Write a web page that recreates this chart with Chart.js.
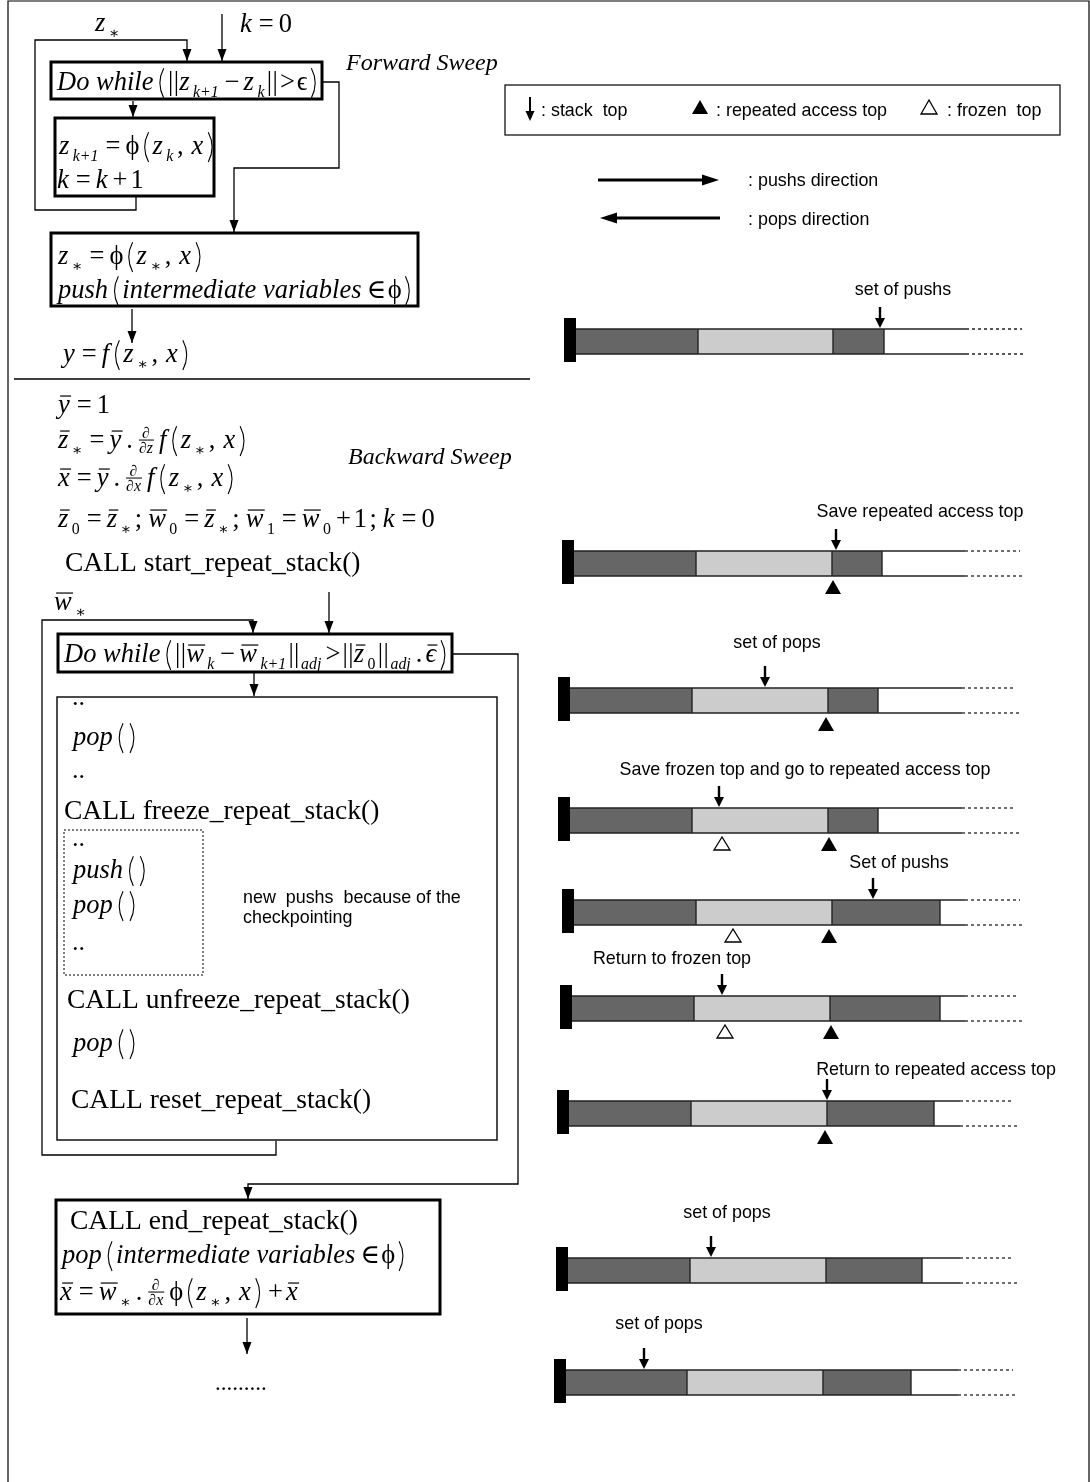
<!DOCTYPE html>
<html><head><meta charset="utf-8">
<script src="https://cdn.jsdelivr.net/npm/chart.js@4.4.1/dist/chart.umd.min.js"></script>
<style>html,body{margin:0;padding:0;background:#fff}#wrap{width:1090px;height:1482px;position:relative}canvas{display:block}</style>
</head><body><div id="wrap"><canvas id="c" width="1090" height="1482"></canvas></div>
<script>
// ---------- domain of the drawing (scale units) ----------
const W = 1090, H = 1482;

// ---------- stack diagrams (right column) ----------
const stackLabels = ["set of pushs","Save repeated access top","set of pops","Save frozen top and go to repeated access top","Set of pushs","Return to frozen top","Return to repeated access top","set of pops","set of pops"];
const stackRowTop = [329,551,688,808,900,996,1101,1258,1370];
const stackBase   = [576,574,570,570,574,572,569,568,566];
const stackDarkEnd  = [698,696,692,692,696,694,691,690,687];
const stackLightEnd = [833,832,828,828,832,830,827,826,823];
const stackFilledEnd= [884,882,878,878,940,940,934,922,911];
const stackOpenEnd  = [966,965,962,962,965,965,960,960,958];
const stackDotEnd   = [1022,1020,1015,1015,1020,1018,1014,1013,1013];
const stackTopPtr   = [880,836,765,719,873,722,827,711,644];
const repeatTopPtr  = [null,833,826,829,829,831,825,null,null];
const frozenTopPtr  = [null,null,null,722,733,725,null,null,null];
const stackLabelX   = [903,920,777,805,899,672,936,727,659];
const stackLabelY   = [289,511,642,769,862,958,1069,1212,1323];

// ---------- legend ----------
const legendTexts = [": stack  top", ": repeated access top", ": frozen  top"];
const directionTexts = [": pushs direction", ": pops direction"];

// ---------- flowchart text (token: kind:text) ----------
const mathLines = [
  {x:95,  y:31,  t:["i:z","_:∗"]},
  {x:240, y:32,  t:["i:k","n:=","n:0"]},
  {x:57,  y:90,  t:["i:Do while","P:(","n:||","i:z","_:k+1","n:−","i:z","_:k","n:||>ϵ","P:)"]},
  {x:59,  y:154, t:["i:z","_:k+1","n:=","n:ϕ","P:(","i:z","_:k","n:,","i:x","P:)"]},
  {x:57,  y:188, t:["i:k","n:=","i:k","n:+1"]},
  {x:58,  y:264, t:["i:z","_:∗","n:=","n:ϕ","P:(","i:z","_:∗","n:,","i:x","P:)"]},
  {x:58,  y:298, t:["i:push","P:(","i:intermediate variables","n:∈ϕ","P:)"]},
  {x:63,  y:362, t:["i:y","n:=","i:f","P:(","i:z","_:∗","n:,","i:x","P:)"]},
  {x:58,  y:413, t:["b:y","n:=1"]},
  {x:58,  y:448, t:["b:z","_:∗","n:=","b:y","n:.","f:z","i:f","P:(","i:z","_:∗","n:,","i:x","P:)"]},
  {x:58,  y:486, t:["b:x","n:=","b:y","n:.","f:x","i:f","P:(","i:z","_:∗","n:,","i:x","P:)"]},
  {x:58,  y:527, t:["b:z","_n:0","n:=","b:z","_:∗","n:;","b:w","_n:0","n:=","b:z","_:∗","n:;","b:w","_n:1","n:=","b:w","_n:0","n:+1;","i:k","n:=0"]},
  {x:54,  y:610, t:["b:w","_:∗"]},
  {x:64,  y:662, t:["i:Do while","P:(","n:||","b:w","_:k","n:−","b:w","_:k+1","n:||","_:adj","n:>||","b:z","_n:0","n:||","_:adj","n:.","b:ϵ","P:)"]},
  {x:73,  y:745, t:["i:pop","P:(","P:)"]},
  {x:73,  y:878, t:["i:push","P:(","P:)"]},
  {x:73,  y:913, t:["i:pop","P:(","P:)"]},
  {x:73,  y:1051,t:["i:pop","P:(","P:)"]},
  {x:62,  y:1263,t:["i:pop","P:(","i:intermediate variables","n:∈ϕ","P:)"]},
  {x:60,  y:1300,t:["b:x","n:=","b:w","_:∗","n:.","f:x","n:ϕ","P:(","i:z","_:∗","n:,","i:x","P:)","n:+","b:x"]}
];
const plainLines = [
  {x:65, y:571,  t:"CALL start_repeat_stack()"},
  {x:64, y:819,  t:"CALL freeze_repeat_stack()"},
  {x:67, y:1008, t:"CALL unfreeze_repeat_stack()"},
  {x:71, y:1108, t:"CALL reset_repeat_stack()"},
  {x:70, y:1229, t:"CALL end_repeat_stack()"}
];
const dotLines = [{x:72,y:705},{x:72,y:778},{x:72,y:846},{x:72,y:950}];
const sweepLabels = [{x:346,y:70,t:"Forward Sweep"},{x:348,y:464,t:"Backward Sweep"}];
const noteLines = [{x:243,y:903,t:"new  pushs  because of the"},{x:243,y:923,t:"checkpointing"}];

// ---------- flowchart boxes and connectors ----------
const boxes = [
  {r:[51,62,322,99], lw:3},
  {r:[55,118,214,196], lw:3},
  {r:[51,233,418,306], lw:3},
  {r:[58,634,452,672], lw:3},
  {r:[57,697,497,1140], lw:1.4},
  {r:[56,1200,440,1314], lw:3}
];
const dottedBox = [64,830,203,975];
const connectors = [
  {p:[[136,197],[136,210],[35,210],[35,40],[187,40],[187,61]], arrow:true},
  {p:[[222,14],[222,61]], arrow:true},
  {p:[[133,101],[133,117]], arrow:true},
  {p:[[322,82],[339,82],[339,168],[234,168],[234,232]], arrow:true},
  {p:[[132,309],[132,343]], arrow:true},
  {p:[[276,1141],[276,1155],[42,1155],[42,620],[253,620],[253,633]], arrow:true},
  {p:[[329,592],[329,633]], arrow:true},
  {p:[[254,673],[254,696]], arrow:true},
  {p:[[452,654],[518,654],[518,1184],[248,1184],[248,1199]], arrow:true},
  {p:[[247,1318],[247,1354]], arrow:true},
  {p:[[14,379],[530,379]], arrow:false, lw:1.6}
];

const SERIF = '"Liberation Serif","DejaVu Serif",serif';
const SANS = '"Liberation Sans","DejaVu Sans",sans-serif';
const MATH = 26.5, CALLSIZE = 27.5, SANSSIZE = 17.9;

const diagram = {
  id: 'diagram',
  afterDraw(chart) {
    const ctx = chart.ctx, xs = chart.scales.x, ys = chart.scales.y;
    const X = v => xs.getPixelForValue(v), Y = v => ys.getPixelForValue(v);
    ctx.save();
    ctx.fillStyle = '#fff'; ctx.fillRect(0,0,chart.width,chart.height);
    ctx.strokeStyle = '#000'; ctx.fillStyle = '#000'; ctx.lineCap = 'butt'; ctx.lineJoin = 'miter';

    function head(x, y, dir, len, half) {
      ctx.beginPath();
      if (dir === 'down') { ctx.moveTo(X(x),Y(y)); ctx.lineTo(X(x-half),Y(y-len)); ctx.lineTo(X(x+half),Y(y-len)); }
      if (dir === 'up')   { ctx.moveTo(X(x),Y(y)); ctx.lineTo(X(x-half),Y(y+len)); ctx.lineTo(X(x+half),Y(y+len)); }
      if (dir === 'right'){ ctx.moveTo(X(x),Y(y)); ctx.lineTo(X(x-len),Y(y-half)); ctx.lineTo(X(x-len),Y(y+half)); }
      if (dir === 'left') { ctx.moveTo(X(x),Y(y)); ctx.lineTo(X(x+len),Y(y-half)); ctx.lineTo(X(x+len),Y(y+half)); }
      ctx.closePath(); ctx.fill();
    }
    function line(pts, lw, dash) {
      ctx.lineWidth = lw; ctx.setLineDash(dash || []);
      ctx.beginPath(); ctx.moveTo(X(pts[0][0]),Y(pts[0][1]));
      for (let i=1;i<pts.length;i++) ctx.lineTo(X(pts[i][0]),Y(pts[i][1]));
      ctx.stroke(); ctx.setLineDash([]);
    }
    function rect(r, lw, dash) {
      ctx.lineWidth = lw; ctx.setLineDash(dash || []);
      ctx.strokeRect(X(r[0]),Y(r[1]),X(r[2])-X(r[0]),Y(r[3])-Y(r[1]));
      ctx.setLineDash([]);
    }
    function tri(x, yTop, h, half, filled) {
      ctx.beginPath(); ctx.moveTo(X(x),Y(yTop)); ctx.lineTo(X(x-half),Y(yTop+h)); ctx.lineTo(X(x+half),Y(yTop+h)); ctx.closePath();
      if (filled) ctx.fill(); else { ctx.lineWidth = 1.3; ctx.fillStyle='#fff'; ctx.fill(); ctx.fillStyle='#000'; ctx.stroke(); }
    }
    const PAD = {'=':[5,5],'−':[4,4],'+':[3,3],'>':[2,2],'∈':[3,1.5],',':[1.5,8],';':[1.5,6],'.':[3,3],'|':[0.2,0.2]};
    function rich(x, y, toks, size) {
      let cx = X(x); const by = Y(y);
      ctx.textBaseline = 'alphabetic'; ctx.textAlign = 'left';
      for (const tok of toks) {
        const i = tok.indexOf(':'); const k = tok.slice(0,i), s = tok.slice(i+1);
        if (k === 'i' || k === 'b') {
          ctx.font = 'italic ' + size + 'px ' + SERIF;
          ctx.fillText(s, cx, by);
          const w = ctx.measureText(s).width;
          if (k === 'b') { ctx.lineWidth = 1.2; ctx.beginPath(); ctx.moveTo(cx+size*0.08, by-size*0.64); ctx.lineTo(cx+w+size*0.05, by-size*0.64); ctx.stroke(); }
          cx += w + 2;
        } else if (k === 'n') {
          ctx.font = size + 'px ' + SERIF;
          for (const ch of s) {
            const p = PAD[ch] || [0,0.8];
            cx += p[0];
            ctx.fillText(ch, cx, by);
            cx += ctx.measureText(ch).width + p[1];
          }
        } else if (k === '_' || k === '_n') {
          const ss = size*0.6;
          ctx.font = (k === '_' ? 'italic ' : '') + ss + 'px ' + SERIF;
          ctx.fillText(s, cx+1.5, by+size*0.25);
          cx += ctx.measureText(s).width + 3.5;
        } else if (k === 'P') {
          const top = by - size*0.82, bot = by + size*0.3, w = size*0.2;
          cx += 3;
          ctx.lineWidth = 1.1; ctx.beginPath();
          if (s === '(') { ctx.moveTo(cx+w, top); ctx.quadraticCurveTo(cx-w*0.45, (top+bot)/2, cx+w, bot); }
          else { ctx.moveTo(cx, top); ctx.quadraticCurveTo(cx+w*1.45, (top+bot)/2, cx, bot); }
          ctx.stroke();
          cx += w + 4;
        } else if (k === 'f') {
          const fs = size*0.6;
          ctx.font = 'italic ' + fs + 'px ' + SERIF;
          const wd = ctx.measureText('∂'+s).width, wn = ctx.measureText('∂').width;
          const ly = by - size*0.3;
          cx += 3;
          ctx.fillText('∂', cx+(wd-wn)/2, ly-2);
          ctx.fillText('∂'+s, cx, ly+fs*0.82);
          ctx.lineWidth = 1; ctx.beginPath(); ctx.moveTo(cx, ly); ctx.lineTo(cx+wd+1, ly); ctx.stroke();
          cx += wd + 6;
        }
      }
    }

    // outer frame
    line([[8,H],[8,1],[1089,1],[1089,H]], 1.2);

    // flowchart
    boxes.forEach(b => rect(b.r, b.lw));
    rect(dottedBox, 1, [2,2]);
    connectors.forEach(c => {
      const p = c.p; line(p, c.lw || 1.3);
      if (c.arrow) {
        const a = p[p.length-2], b = p[p.length-1];
        const dir = b[1] > a[1] ? 'down' : b[1] < a[1] ? 'up' : b[0] > a[0] ? 'right' : 'left';
        head(b[0], b[1], dir, 12, 4.5);
      }
    });
    mathLines.forEach(m => rich(m.x, m.y, m.t, MATH));
    ctx.font = CALLSIZE + 'px ' + SERIF;
    plainLines.forEach(p => ctx.fillText(p.t, X(p.x), Y(p.y)));
    ctx.font = '26px ' + SERIF;
    dotLines.forEach(d => ctx.fillText('..', X(d.x), Y(d.y)));
    ctx.font = '23px ' + SERIF;
    ctx.fillText('.........', X(215), Y(1390));
    ctx.font = 'italic 24px ' + SERIF;
    sweepLabels.forEach(s => ctx.fillText(s.t, X(s.x), Y(s.y)));
    ctx.font = SANSSIZE + 'px ' + SANS;
    noteLines.forEach(n => ctx.fillText(n.t, X(n.x), Y(n.y)));

    // legend box
    rect([505,85,1060,135], 1.2);
    line([[530,97],[530,112]], 2); head(530,121,'down',10,4.5);
    tri(700,100,14,8,true);
    tri(929,100,14,8,false);
    ctx.font = SANSSIZE + 'px ' + SANS;
    ctx.fillText(legendTexts[0], X(541), Y(116));
    ctx.fillText(legendTexts[1], X(716), Y(116));
    ctx.fillText(legendTexts[2], X(947), Y(116));
    // direction arrows
    line([[598,180],[704,180]], 3.2); head(719,180,'right',17,5.5);
    line([[616,218],[720,218]], 3.2); head(600,218,'left',17,5.5);
    ctx.fillText(directionTexts[0], X(748), Y(186));
    ctx.fillText(directionTexts[1], X(748), Y(225));

    // stacks
    for (let i = 0; i < stackRowTop.length; i++) {
      const t = stackRowTop[i], b = t + 25;
      ctx.fillStyle = '#666666';
      ctx.fillRect(X(stackBase[i]),Y(t),X(stackDarkEnd[i])-X(stackBase[i]),Y(b)-Y(t));
      ctx.fillRect(X(stackLightEnd[i]),Y(t),X(stackFilledEnd[i])-X(stackLightEnd[i]),Y(b)-Y(t));
      ctx.fillStyle = '#cccccc';
      ctx.fillRect(X(stackDarkEnd[i]),Y(t),X(stackLightEnd[i])-X(stackDarkEnd[i]),Y(b)-Y(t));
      ctx.fillStyle = '#000';
      ctx.strokeStyle = '#222';
      line([[stackBase[i],t],[stackOpenEnd[i],t]], 1.5);
      line([[stackBase[i],b],[stackOpenEnd[i],b]], 1.5);
      line([[stackOpenEnd[i],t],[stackDotEnd[i],t]], 1.3, [3,3]);
      line([[stackOpenEnd[i],b],[stackDotEnd[i]+4,b]], 1.3, [3,3]);
      [stackDarkEnd[i], stackLightEnd[i], stackFilledEnd[i]].forEach(v => line([[v,t],[v,b]], 1.4));
      ctx.strokeStyle = '#000';
      ctx.fillRect(X(stackBase[i]-12),Y(t-11),X(stackBase[i])-X(stackBase[i]-12),Y(b+8)-Y(t-11));
      line([[stackTopPtr[i],t-22],[stackTopPtr[i],t-9]], 2.4); head(stackTopPtr[i], t-1, 'down', 10, 5);
      if (repeatTopPtr[i] !== null) tri(repeatTopPtr[i], b+4, 14, 8, true);
      if (frozenTopPtr[i] !== null) tri(frozenTopPtr[i], b+4, 13, 8, false);
      ctx.font = SANSSIZE + 'px ' + SANS; ctx.textAlign = 'center';
      ctx.fillText(stackLabels[i], X(stackLabelX[i]), Y(stackLabelY[i]+6));
      ctx.textAlign = 'left';
    }
    ctx.restore();
  }
};

new Chart(document.getElementById('c'), {
  type: 'scatter',
  data: { datasets: [{ data: [], pointRadius: 0 }] },
  options: {
    responsive: false, animation: false, devicePixelRatio: 1,
    layout: { padding: 0 },
    plugins: { legend: { display: false }, tooltip: { enabled: false } },
    scales: {
      x: { type: 'linear', min: 0, max: W, display: false },
      y: { type: 'linear', min: 0, max: H, reverse: true, display: false }
    }
  },
  plugins: [diagram]
});
</script></body></html>
